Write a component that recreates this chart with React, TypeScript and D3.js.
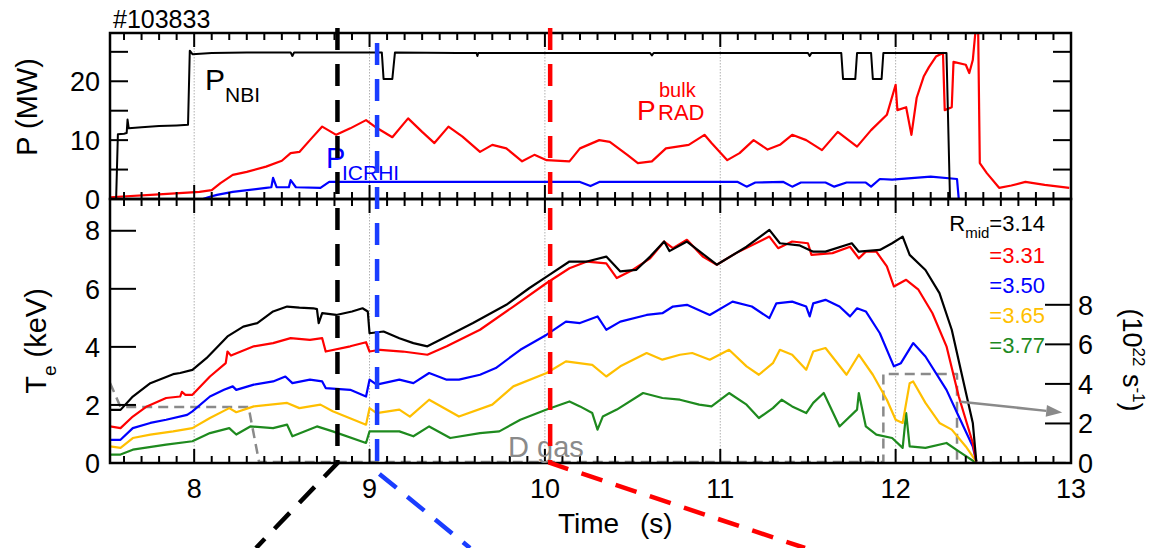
import React from 'react';
import * as d3 from 'd3';

const FONT = '"Liberation Sans", Arial, Helvetica, sans-serif';

// ---------- data ----------
const shotLabel = '#103833';
const timeTickLabels = [8, 9, 10, 11, 12, 13];
const gridTimes = [8, 9, 10, 11, 12];
const powerTickLabels = [0, 10, 20];
const powerTickMarks = [0, 5, 10, 15, 20, 25];
const teTickLabels = [0, 2, 4, 6, 8];
const gasTickLabels = [0, 2, 4, 6, 8];

// P_NBI (MW)
const pNBI: [number, number][] = [
  [7.52, 0], [7.555, 0], [7.565, 11], [7.6, 11.1], [7.615, 11.2], [7.62, 13.5], [7.627, 12.0],
  [7.7, 12.2], [7.8, 12.4], [7.9, 12.5], [7.965, 12.6], [7.975, 25.2], [7.99, 24.6], [8.1, 24.8],
  [8.3, 24.9], [8.55, 24.9], [8.56, 24.3], [8.57, 24.9], [8.8, 24.9], [9.07, 24.9], [9.08, 20.4],
  [9.13, 20.4], [9.145, 24.9], [9.5, 24.8], [9.61, 24.8], [9.615, 24.3], [9.62, 24.8], [10.0, 24.8],
  [10.6, 24.8], [10.61, 24.4], [10.62, 24.8], [11.0, 24.8], [11.5, 24.8], [11.51, 24.3], [11.52, 24.8],
  [11.69, 24.8], [11.70, 20.4], [11.77, 20.4], [11.78, 24.8], [11.86, 24.8], [11.87, 20.4],
  [11.92, 20.4], [11.93, 24.8], [12.29, 24.8], [12.31, 0], [13, 0],
];

// P_RAD bulk (MW)
const pRAD: [number, number][] = [
  [7.52, 0.3], [7.8, 0.8], [8.03, 1.2], [8.1, 1.5], [8.15, 2.7], [8.22, 4.1], [8.3, 4.6], [8.41, 5.5],
  [8.5, 6.5], [8.55, 7.8], [8.6, 8.0], [8.66, 10.0], [8.73, 12.3], [8.81, 10.9], [8.89, 12.0],
  [8.98, 13.4], [9.04, 12.1], [9.13, 10.5], [9.22, 13.7], [9.3, 11.4], [9.37, 9.5], [9.45, 12.3],
  [9.53, 10.6], [9.63, 8.0], [9.7, 9.2], [9.78, 8.6], [9.87, 6.4], [9.94, 7.5], [10.01, 6.6],
  [10.14, 6.4], [10.2, 8.6], [10.31, 10.0], [10.37, 9.7], [10.47, 7.5], [10.53, 6.1], [10.61, 6.4],
  [10.69, 8.6], [10.82, 9.2], [10.91, 10.9], [10.95, 9.5], [11.04, 6.6], [11.11, 7.8], [11.19, 10.0],
  [11.27, 8.4], [11.34, 9.2], [11.41, 10.9], [11.49, 10.0], [11.58, 8.3], [11.67, 11.4], [11.78, 8.9],
  [11.86, 11.7], [11.95, 14.3], [12.0, 19.4], [12.01, 15.1], [12.06, 15.6], [12.09, 10.9],
  [12.12, 17.2], [12.16, 20.8], [12.19, 22.4], [12.23, 24.2], [12.27, 24.8], [12.28, 15.1],
  [12.32, 15.6], [12.33, 23.3], [12.4, 22.8], [12.42, 21.4], [12.44, 23.6], [12.46, 30], [12.47, 30],
  [12.48, 6.1], [12.52, 4.4], [12.59, 1.9], [12.66, 2.3], [12.74, 2.9], [12.85, 2.4], [12.99, 1.9],
];

// P_ICRH (MW)
const pICRH: [number, number][] = [
  [7.52, 0], [8.05, 0], [8.08, 0.3], [8.13, 0.7], [8.22, 1.2], [8.41, 1.9], [8.44, 2.0], [8.45, 3.6],
  [8.47, 2.0], [8.54, 2.0], [8.55, 3.2], [8.58, 2.0], [8.72, 1.9], [8.77, 2.9], [9.5, 2.9], [10.2, 2.9],
  [10.26, 2.2], [10.31, 2.9], [11.1, 2.9], [11.15, 2.1], [11.2, 2.8], [11.36, 2.9], [11.41, 2.1],
  [11.46, 2.8], [11.6, 2.8], [11.65, 2.1], [11.72, 2.8], [11.83, 2.8], [11.86, 2.1], [11.91, 3.4],
  [11.98, 3.3], [12.2, 3.8], [12.35, 3.4], [12.36, 0], [12.83, 0],
];

// Te (keV) at R_mid
const te314: [number, number][] = [
  [7.52, 1.83], [7.58, 1.83], [7.65, 2.29], [7.75, 2.75], [7.88, 3.06], [7.92, 3.1], [7.99, 3.21],
  [8.07, 3.61], [8.19, 4.36], [8.28, 4.7], [8.36, 4.82], [8.45, 5.22], [8.53, 5.39], [8.6, 5.35],
  [8.68, 5.33], [8.7, 5.3], [8.71, 4.82], [8.73, 5.16], [8.81, 5.1], [8.9, 5.22], [8.96, 5.33],
  [8.99, 5.22], [9.0, 4.47], [9.08, 4.53], [9.17, 4.3], [9.25, 4.13], [9.33, 4.02], [9.44, 4.36],
  [9.59, 4.82], [9.78, 5.45], [9.91, 6.02], [10.01, 6.42], [10.14, 6.94], [10.24, 6.94], [10.35, 7.11],
  [10.43, 6.6], [10.52, 6.65], [10.6, 7.11], [10.68, 7.63], [10.71, 7.3], [10.81, 7.63], [10.98, 6.83],
  [11.15, 7.45], [11.28, 8.03], [11.34, 7.57], [11.45, 7.5], [11.53, 7.28], [11.6, 7.28], [11.75, 7.57],
  [11.79, 7.28], [11.91, 7.34], [11.98, 7.57], [12.04, 7.8], [12.08, 7.17], [12.17, 6.65], [12.25, 5.85],
  [12.32, 4.59], [12.38, 2.98], [12.44, 1.38], [12.46, 0.05],
];
const te331: [number, number][] = [
  [7.52, 1.26], [7.58, 1.2], [7.65, 1.6], [7.73, 1.95], [7.84, 2.24], [7.92, 2.29], [7.93, 2.45],
  [7.95, 2.35], [7.99, 2.35], [8.09, 2.98], [8.18, 3.44], [8.19, 3.84], [8.21, 3.7], [8.34, 4.02],
  [8.45, 4.13], [8.55, 4.3], [8.66, 4.24], [8.73, 4.3], [8.75, 3.84], [8.89, 4.02], [8.98, 4.16],
  [9.0, 3.84], [9.06, 3.9], [9.19, 3.84], [9.33, 3.73], [9.44, 4.02], [9.63, 4.59], [9.82, 5.39],
  [10.01, 6.2], [10.14, 6.71], [10.24, 6.94], [10.35, 6.88], [10.41, 6.37], [10.5, 6.65], [10.6, 7.05],
  [10.68, 7.63], [10.73, 7.4], [10.81, 7.69], [10.9, 7.11], [10.98, 6.83], [11.09, 7.23], [11.28, 7.8],
  [11.33, 7.4], [11.41, 7.63], [11.5, 7.57], [11.52, 7.17], [11.64, 7.23], [11.74, 7.45], [11.79, 7.05],
  [11.83, 7.28], [11.89, 7.28], [11.95, 6.77], [11.99, 6.08], [12.06, 6.31], [12.13, 5.97], [12.21, 5.16],
  [12.29, 4.02], [12.36, 2.29], [12.44, 0.69], [12.46, 0.05],
];
const te350: [number, number][] = [
  [7.52, 0.8], [7.58, 0.8], [7.65, 1.2], [7.75, 1.38], [7.84, 1.49], [7.96, 1.66], [7.99, 1.78],
  [8.09, 2.29], [8.17, 2.52], [8.22, 2.64], [8.24, 2.52], [8.34, 2.7], [8.45, 2.81], [8.52, 2.98],
  [8.56, 2.75], [8.66, 2.87], [8.73, 2.81], [8.75, 2.58], [8.89, 2.52], [8.98, 2.29], [9.0, 2.87],
  [9.04, 2.7], [9.17, 2.87], [9.25, 2.75], [9.34, 3.1], [9.44, 2.87], [9.51, 2.87], [9.63, 3.04],
  [9.72, 3.27], [9.86, 3.9], [10.01, 4.42], [10.12, 4.87], [10.2, 4.82], [10.3, 5.05], [10.35, 4.59],
  [10.43, 4.87], [10.58, 5.1], [10.67, 5.16], [10.73, 5.39], [10.81, 5.45], [10.94, 5.1], [11.07, 5.56],
  [11.18, 5.39], [11.28, 4.99], [11.32, 5.5], [11.41, 5.56], [11.49, 5.39], [11.51, 5.05], [11.53, 5.5],
  [11.6, 5.62], [11.68, 5.39], [11.74, 5.05], [11.78, 5.33], [11.83, 5.22], [11.91, 4.47], [11.99, 3.33],
  [12.03, 3.44], [12.1, 4.13], [12.17, 3.67], [12.29, 2.52], [12.36, 1.6], [12.44, 0.57], [12.46, 0.05],
];
const te365: [number, number][] = [
  [7.52, 0.57], [7.58, 0.52], [7.65, 0.86], [7.75, 0.98], [7.88, 1.09], [7.99, 1.2], [8.09, 1.55],
  [8.2, 1.89], [8.24, 1.75], [8.34, 1.95], [8.53, 2.07], [8.6, 1.89], [8.72, 2.01], [8.79, 1.78],
  [8.98, 1.32], [9.0, 1.89], [9.04, 1.72], [9.17, 1.84], [9.23, 1.6], [9.34, 2.18], [9.51, 1.6],
  [9.7, 2.01], [9.82, 2.64], [10.01, 3.1], [10.12, 3.5], [10.27, 3.38], [10.35, 2.98], [10.43, 3.33],
  [10.58, 3.79], [10.67, 3.56], [10.77, 3.73], [10.84, 3.79], [10.94, 3.56], [11.05, 3.9], [11.15, 3.33],
  [11.22, 3.04], [11.3, 3.44], [11.34, 3.9], [11.41, 3.73], [11.49, 3.21], [11.53, 3.84], [11.6, 3.96],
  [11.72, 3.04], [11.79, 3.73], [11.87, 3.04], [11.95, 2.18], [12.0, 1.49], [12.04, 1.38], [12.08, 2.75],
  [12.1, 2.81], [12.17, 2.07], [12.25, 1.38], [12.32, 1.15], [12.4, 0.57], [12.46, 0.05],
];
const te377: [number, number][] = [
  [7.52, 0.29], [7.58, 0.29], [7.65, 0.46], [7.84, 0.63], [7.99, 0.75], [8.09, 1.03], [8.2, 1.2],
  [8.24, 0.98], [8.32, 1.26], [8.45, 1.2], [8.53, 1.32], [8.56, 0.92], [8.7, 1.26], [8.79, 1.09],
  [8.98, 0.69], [9.0, 1.09], [9.17, 1.09], [9.25, 0.92], [9.34, 1.26], [9.46, 0.86], [9.63, 1.03],
  [9.74, 1.09], [9.86, 1.49], [10.01, 1.84], [10.14, 2.12], [10.2, 1.95], [10.27, 1.72], [10.3, 1.15],
  [10.33, 1.6], [10.41, 1.84], [10.56, 2.41], [10.67, 2.24], [10.77, 2.18], [10.88, 2.01], [10.95, 1.95],
  [11.05, 2.41], [11.15, 2.01], [11.22, 1.55], [11.3, 1.89], [11.35, 2.18], [11.41, 1.95], [11.49, 1.72],
  [11.53, 2.07], [11.59, 2.41], [11.68, 1.26], [11.78, 1.84], [11.79, 2.41], [11.83, 1.26], [11.89, 0.98],
  [11.98, 0.86], [12.04, 0.52], [12.06, 1.72], [12.08, 0.57], [12.17, 0.52], [12.29, 0.69], [12.36, 0.4],
  [12.46, 0.0],
];

// D gas (10^22 s^-1)
const dGas: [number, number][] = [
  [7.52, 4.05], [7.58, 2.83], [8.31, 2.83], [8.37, 0.05], [11.93, 0.05], [11.93, 4.5], [12.35, 4.5],
  [12.35, 0.0], [13.0, 0.0],
];

const teSeries = [te314, te331, te350, te365, te377];
const teColors = ['#000000', '#ff0000', '#0000ff', '#ffbf00', '#1e8a1e'];
const legendValues = ['=3.14', '=3.31', '=3.50', '=3.65', '=3.77'];

// marker times (s) for the thick dashed lines
const markerTimes = [8.817, 9.043, 10.03];
const markerColors = ['#000000', '#1a3dff', '#ff0000'];

// ---------- layout ----------
const W = 1158, H = 548;
const L = 110, R = 1071, TOP = 33, MID = 199, BOT = 463;

export default function App() {
  const x = d3.scaleLinear().domain([7.52, 13]).range([L, R]);
  const yP = d3.scaleLinear().domain([0, 28.2]).range([MID, TOP]);
  const yT = d3.scaleLinear().domain([0, 9.06]).range([BOT, MID + 1]);
  const yG = d3.scaleLinear().domain([0, 13.3]).range([BOT, MID + 1]);

  const lineP = d3.line<[number, number]>().x(d => x(d[0])).y(d => yP(d[1]));
  const lineT = d3.line<[number, number]>().x(d => x(d[0])).y(d => yT(d[1]));
  const lineG = d3.line<[number, number]>().x(d => x(d[0])).y(d => yG(d[1]));

  const minor = d3.range(76, 131).map(i => i / 10);
  const isMajor = (t: number) => Math.abs(t - Math.round(t)) < 1e-6;

  const markerTops = [28, 43, 28];
  const markerBends = [BOT, 472, BOT];
  const markerEnds = [256, 470, 805];

  const arrowStart: [number, number] = [x(12.37), yG(3.1)];
  const arrowEnd: [number, number] = [x(12.95), yG(2.55)];
  const ang = Math.atan2(arrowEnd[1] - arrowStart[1], arrowEnd[0] - arrowStart[0]);
  const ah = 16, aw = 6;
  const tip = arrowEnd;
  const base = [tip[0] - ah * Math.cos(ang), tip[1] - ah * Math.sin(ang)];
  const arrowHead = [
    tip,
    [base[0] + aw * Math.sin(ang), base[1] - aw * Math.cos(ang)],
    [base[0] - aw * Math.sin(ang), base[1] + aw * Math.cos(ang)],
  ].map(p => p.join(',')).join(' ');

  const tickFS = 27;

  return (
    <svg width={W} height={H} style={{ position: 'absolute', left: 0, top: 0, background: '#fff' }}
      fontFamily={FONT}>
      <defs>
        <clipPath id="clipTop"><rect x={L} y={TOP} width={R - L} height={MID - TOP} /></clipPath>
        <clipPath id="clipBot"><rect x={L} y={MID} width={R - L} height={BOT - MID} /></clipPath>
      </defs>

      {gridTimes.map(t => (
        <g key={'g' + t}>
          <line x1={x(t)} x2={x(t)} y1={TOP} y2={MID} stroke="#b0b0b0" strokeWidth={1} strokeDasharray="1.5 1.5" />
          <line x1={x(t)} x2={x(t)} y1={MID} y2={BOT} stroke="#b0b0b0" strokeWidth={1} strokeDasharray="1.5 1.5" />
        </g>
      ))}

      <g clipPath="url(#clipTop)" fill="none" strokeLinejoin="round">
        <path d={lineP(pICRH) || ''} stroke="#0000ff" strokeWidth={2.2} />
        <path d={lineP(pRAD) || ''} stroke="#ff0000" strokeWidth={2.2} />
        <path d={lineP(pNBI) || ''} stroke="#000000" strokeWidth={2} />
      </g>

      <g clipPath="url(#clipBot)" fill="none" strokeLinejoin="round">
        <path d={lineG(dGas) || ''} stroke="#8a8a8a" strokeWidth={2.5} strokeDasharray="10 6" />
        {teSeries.slice().reverse().map((s, i) => {
          const idx = teSeries.length - 1 - i;
          return <path key={'te' + idx} d={lineT(s) || ''} stroke={teColors[idx]} strokeWidth={2.2} />;
        })}
      </g>

      <line x1={arrowStart[0]} y1={arrowStart[1]} x2={base[0]} y2={base[1]} stroke="#8a8a8a" strokeWidth={2.5} />
      <polygon points={arrowHead} fill="#8a8a8a" />

      <rect x={L} y={TOP} width={R - L} height={MID - TOP} fill="none" stroke="#000" strokeWidth={2.5} />
      <rect x={L} y={MID} width={R - L} height={BOT - MID} fill="none" stroke="#000" strokeWidth={2.5} />

      {minor.map(t => {
        const len = isMajor(t) ? 14 : 7;
        const xx = x(t);
        return (
          <g key={'t' + t} stroke="#000" strokeWidth={2}>
            <line x1={xx} x2={xx} y1={TOP} y2={TOP + len} />
            <line x1={xx} x2={xx} y1={MID} y2={MID - len} />
            <line x1={xx} x2={xx} y1={MID} y2={MID + len} />
            <line x1={xx} x2={xx} y1={BOT} y2={BOT - len} />
          </g>
        );
      })}

      {powerTickMarks.map(v => (
        <g key={'p' + v} stroke="#000" strokeWidth={2}>
          <line x1={L} x2={L + 18} y1={yP(v)} y2={yP(v)} />
          <line x1={R} x2={R - 18} y1={yP(v)} y2={yP(v)} />
        </g>
      ))}
      {powerTickLabels.map(v => (
        <text key={'pl' + v} x={100} y={yP(v)} dy="0.36em" textAnchor="end" fontSize={tickFS}>{v}</text>
      ))}

      {teTickLabels.map(v => (
        <g key={'te' + v}>
          <line x1={L} x2={L + 26} y1={yT(v)} y2={yT(v)} stroke="#000" strokeWidth={2} />
          <text x={100} y={yT(v)} dy="0.36em" textAnchor="end" fontSize={tickFS}>{v}</text>
        </g>
      ))}

      {gasTickLabels.map(v => (
        <g key={'ga' + v}>
          <line x1={R - 26} x2={R} y1={yG(v)} y2={yG(v)} stroke="#000" strokeWidth={2} />
          <text x={1078} y={yG(v)} dy="0.36em" textAnchor="start" fontSize={tickFS}>{v}</text>
        </g>
      ))}

      {timeTickLabels.map(t => (
        <text key={'tl' + t} x={x(t)} y={498} textAnchor="middle" fontSize={tickFS}>{t}</text>
      ))}
      <text x={558} y={533} fontSize={28}>Time</text>
      <text x={640} y={533} fontSize={28}>(s)</text>

      <text transform="translate(37,107) rotate(-90)" textAnchor="middle" fontSize={29}>P (MW)</text>
      <text transform="translate(46,341) rotate(-90)" textAnchor="middle" fontSize={29}>
        <tspan>T</tspan><tspan dy={10} fontSize={19}>e</tspan><tspan dy={-10}> (keV)</tspan>
      </text>
      <text transform="translate(1123,360) rotate(90)" textAnchor="middle" fontSize={27}>
        <tspan>(10</tspan><tspan dy={-10} fontSize={17}>22</tspan><tspan dy={10}> s</tspan>
        <tspan dy={-10} fontSize={17}>-1</tspan><tspan dy={10}>)</tspan>
      </text>

      <text x={113} y={28} fontSize={25}>{shotLabel}</text>

      <text x={205} y={90} fontSize={30}>P</text>
      <text x={225} y={102} fontSize={21}>NBI</text>

      <text x={326} y={168} fontSize={29} fill="#0000ff">P</text>
      <text x={342} y={180} fontSize={21} fill="#0000ff">ICRHI</text>

      <text x={637} y={120} fontSize={28} fill="#ff0000">P</text>
      <text x={658} y={120} fontSize={22} fill="#ff0000">RAD</text>
      <text x={659} y={97} fontSize={20} fill="#ff0000">bulk</text>

      <text x={1045} y={231} textAnchor="end" fontSize={22}>
        <tspan>R</tspan><tspan dy={7} fontSize={15}>mid</tspan><tspan dy={-7}>{legendValues[0]}</tspan>
      </text>
      {legendValues.slice(1).map((v, i) => (
        <text key={'lg' + i} x={1045} y={263 + i * 30} textAnchor="end" fontSize={22} fill={teColors[i + 1]}>{v}</text>
      ))}

      <text x={508} y={457} fontSize={29} fill="#8a8a8a">D gas</text>

      {markerTimes.map((t, i) => (
        <polyline key={'m' + i}
          points={`${x(t)},${markerTops[i]} ${x(t)},${markerBends[i]} ${markerEnds[i]},${H}`}
          fill="none" stroke={markerColors[i]} strokeWidth={4.5} strokeDasharray="22 14" />
      ))}
    </svg>
  );
}
